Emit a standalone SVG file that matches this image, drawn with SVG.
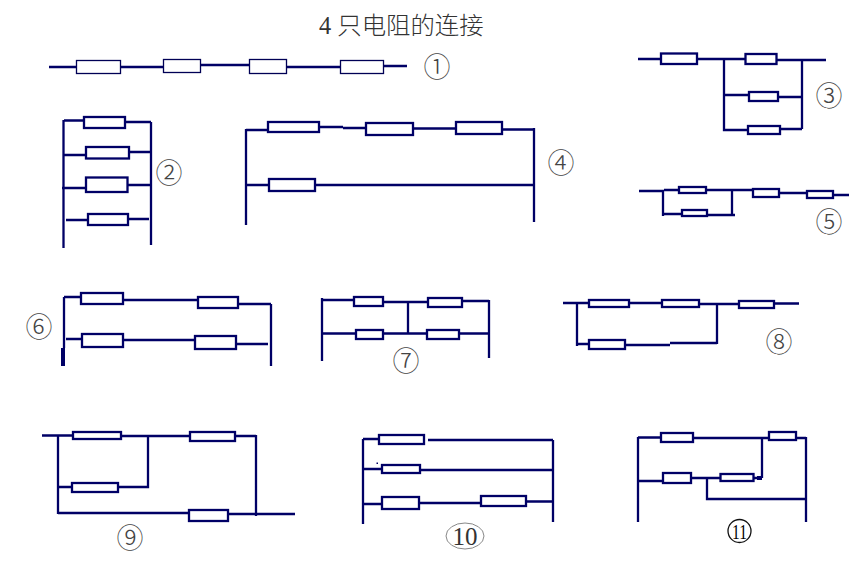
<svg xmlns="http://www.w3.org/2000/svg" width="868" height="581" viewBox="0 0 868 581">
<style>
.w{fill:none;stroke:#000066;stroke-width:2.300;stroke-linecap:butt}
.r{fill:#fff;stroke:#000066;stroke-width:2.300}
.t{fill:#fff;stroke:#000055;stroke-width:1.300}
.n{font-family:"Noto Sans CJK SC",sans-serif;font-size:27px;font-weight:300;fill:#444;text-anchor:middle}
.ttl{font-family:"Liberation Serif","Noto Sans CJK SC",serif;font-size:24.400px;font-weight:300;fill:#333}
</style>
<rect width="868" height="581" fill="#fff"/>
<text id="title" class="ttl" x="319" y="34">4 只电阻的连接</text>
<g id="connectors">
<path class="w" d="M49 67H76M121 67H163M200 65H249M286 67H340M383 66H407"/>
<path class="w" d="M63.500 120V248M151 122V245M64 120.500H84M125 122H151M64 155H86M128 152H151M62 188H86M127 185H151M66 220H88M128 219H149"/>
<path class="w" d="M638 59H661M697 59H745M776 60H826M724 59V130H748M802 59V129M724 95H749M778 97H802M780 129H802"/>
<path class="w" d="M246 129V225M534 128V222M246 130H268M319 127H343M343 128H366M413 128.500H456M502 129.500H534M246 185H269M315 185H534"/>
<path class="w" d="M639 191H664M664 190H678M706 190H752M779 193H807M833 195H849M663 191V216M732 190V215M663 214H682M707 215H735"/>
<path class="w" d="M64 297V348M64 297H81M123 300H198M238 304H271M271 304V366M66 339H82M123 340H195M236 344H268"/>
<path d="M61 348H65V366H61Z" fill="#000066"/>
<path class="w" d="M42 435.500H72M121 436H189M235 436H256M256 435V516M58 435V514M148 436V487H118M58 487H72M58 513H189M228 514H295"/>
<path class="w" d="M322 298V361M489 300V358M322 300H354M383 302H428M462 301H489M322 333.500H356M383 333.500H427M459 333.500H489M408 302V333"/>
<path class="w" d="M363 439V524M553 440V522M363 439H378M428 440H553M363 469H382M420 470H553M363 504H382M419 503H481M526 501.500H553"/>
<path class="w" d="M563 303H589M629 303H662M699 304H739M774 303.500H799M577 304V346M717 304V344M577 344H589M625 345H670M670 343H717"/>
<path class="w" d="M638 437V522M806 437V522M638 437.500H661M693 438H769M796 438H806M762 438V478M638 481H663M691 478H720M753 478H762M707 478V499H806"/>
<rect x="757" y="476" width="5" height="4" fill="#000066"/>
<rect x="376.500" y="462.500" width="1.500" height="1.500" fill="#000066"/>
</g>
<g id="circuit1">
<g id="r1a"><rect class="t" x="76.500" y="60.500" width="44" height="13"/></g>
<g id="r1b"><rect class="t" x="163.500" y="59.500" width="37" height="13"/></g>
<g id="r1c"><rect class="t" x="249.500" y="59.500" width="37" height="14"/></g>
<g id="r1d"><rect class="t" x="340.500" y="60.500" width="43" height="13"/></g>
<text id="label1" class="n" x="437" y="77">①</text>
</g>
<g id="circuit2">
<g id="r2a"><rect class="r" x="84" y="117" width="41" height="11"/></g>
<g id="r2b"><rect class="r" x="86" y="147" width="43" height="11.500"/></g>
<g id="r2c"><rect class="r" x="86" y="177.500" width="41.500" height="14.500"/></g>
<g id="r2d"><rect class="r" x="88" y="214" width="40" height="11"/></g>
<text id="label2" class="n" x="169" y="183">②</text>
</g>
<g id="circuit3">
<g id="r3a"><rect class="r" x="661" y="53.500" width="36" height="10.500"/></g>
<g id="r3b"><rect class="r" x="745.500" y="54" width="31" height="10"/></g>
<g id="r3c"><rect class="r" x="749" y="92" width="29" height="9"/></g>
<g id="r3d"><rect class="r" x="748" y="126" width="32" height="8"/></g>
<text id="label3" class="n" x="829" y="106">③</text>
</g>
<g id="circuit4">
<g id="r4a"><rect class="r" x="268" y="122" width="51" height="10"/></g>
<g id="r4b"><rect class="r" x="366" y="123" width="47" height="12"/></g>
<g id="r4c"><rect class="r" x="456" y="122" width="46" height="12"/></g>
<g id="r4d"><rect class="r" x="269" y="179" width="46" height="12"/></g>
<text id="label4" class="n" x="561" y="173">④</text>
</g>
<g id="circuit5">
<g id="r5a"><rect class="r" x="679" y="187" width="27" height="6"/></g>
<g id="r5b"><rect class="r" x="753" y="189" width="26" height="8"/></g>
<g id="r5c"><rect class="r" x="807" y="191" width="26" height="7"/></g>
<g id="r5d"><rect class="r" x="682" y="210" width="25" height="6"/></g>
<text id="label5" class="n" x="829" y="232">⑤</text>
</g>
<g id="circuit6">
<g id="r6a"><rect class="r" x="81" y="293" width="42" height="11"/></g>
<g id="r6b"><rect class="r" x="198" y="297" width="40" height="11"/></g>
<g id="r6c"><rect class="r" x="82" y="334" width="41" height="13"/></g>
<g id="r6d"><rect class="r" x="195" y="336" width="41" height="13"/></g>
<text id="label6" class="n" x="39" y="337">⑥</text>
</g>
<g id="circuit7">
<g id="r7a"><rect class="r" x="354" y="297" width="29" height="9"/></g>
<g id="r7b"><rect class="r" x="428" y="298" width="34" height="9"/></g>
<g id="r7c"><rect class="r" x="356" y="330" width="27" height="9"/></g>
<g id="r7d"><rect class="r" x="427" y="330" width="32" height="9"/></g>
<text id="label7" class="n" x="406" y="371">⑦</text>
</g>
<g id="circuit8">
<g id="r8a"><rect class="r" x="589" y="300" width="40" height="7"/></g>
<g id="r8b"><rect class="r" x="662" y="300" width="37" height="7"/></g>
<g id="r8c"><rect class="r" x="739" y="301" width="35" height="7"/></g>
<g id="r8d"><rect class="r" x="589" y="340" width="36" height="9"/></g>
<text id="label8" class="n" x="779" y="352">⑧</text>
</g>
<g id="circuit9">
<g id="r9a"><rect class="r" x="73" y="432" width="48" height="7"/></g>
<g id="r9b"><rect class="r" x="190" y="432" width="45" height="9"/></g>
<g id="r9c"><rect class="r" x="72" y="483" width="46" height="9"/></g>
<g id="r9d"><rect class="r" x="189" y="510" width="39" height="11"/></g>
<text id="label9" class="n" x="130" y="548">⑨</text>
</g>
<g id="circuit10">
<g id="r10a"><rect class="r" x="379" y="435" width="45" height="9"/></g>
<g id="r10b"><rect class="r" x="382" y="465" width="38" height="8"/></g>
<g id="r10c"><rect class="r" x="382" y="497" width="37" height="12"/></g>
<g id="r10d"><rect class="r" x="481" y="496" width="45" height="10"/></g>
<ellipse cx="465" cy="536" rx="19" ry="13" fill="none" stroke="#888" stroke-width="1"/>
<text id="label10" x="465" y="545" font-family="Liberation Serif,serif" font-size="25" fill="#333" text-anchor="middle">10</text>
</g>
<g id="circuit11">
<g id="r11a"><rect class="r" x="661" y="433" width="32" height="9"/></g>
<g id="r11b"><rect class="r" x="769" y="432" width="27" height="8"/></g>
<g id="r11c"><rect class="r" x="663" y="473" width="28" height="10"/></g>
<g id="r11d"><rect class="r" x="720.500" y="474" width="33" height="7"/></g>
<circle cx="739.500" cy="531" r="11.500" fill="none" stroke="#111" stroke-width="1.300"/>
<text id="label11" x="739.500" y="539" font-family="Liberation Serif,serif" font-size="22" fill="#000" text-anchor="middle" textLength="15" lengthAdjust="spacingAndGlyphs">11</text>
</g>
</svg>
